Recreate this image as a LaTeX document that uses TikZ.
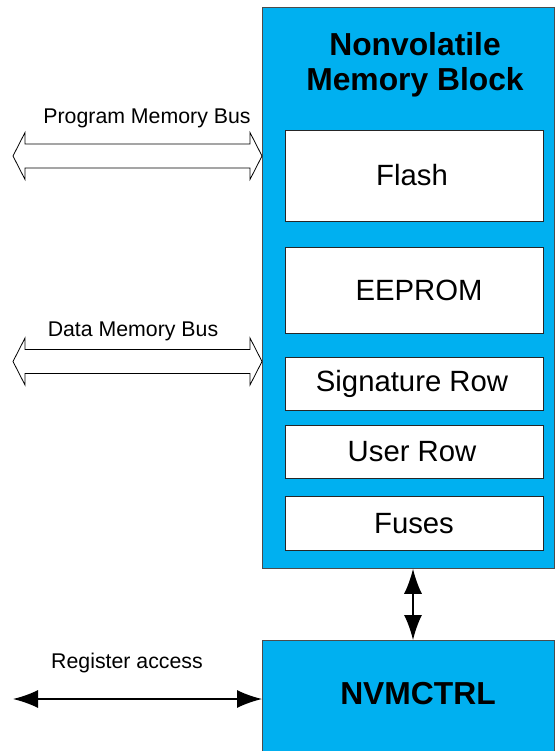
\documentclass[tikz,border=0pt]{standalone}
\usepackage{fontspec}
\setmainfont{Liberation Sans}
\usetikzlibrary{arrows.meta}
\definecolor{nvblue}{RGB}{0,176,240}
\begin{document}
\begin{tikzpicture}[x=1pt,y=-1pt,
  blk/.style={draw=black!70, fill=nvblue, line width=0.8pt, inner sep=0pt},
  memrow/.style={draw=black!85, fill=white, line width=0.8pt, minimum width=258pt, inner sep=0pt, font=\fontsize{29.3}{34}\selectfont},
  title/.style={font=\bfseries\fontsize{31.8}{35}\selectfont, align=center, inner sep=0pt},
  buslabel/.style={font=\fontsize{21.3}{25}\selectfont, inner sep=0pt},
  bus/.style={draw=black, fill=white, line width=0.8pt, line join=miter},
  dbl/.style={{Latex[length=25pt,width=18pt]}-{Latex[length=25pt,width=18pt]}, line width=1.6pt}]
\useasboundingbox (0,0) rectangle (554,751);

% main blocks
\node[blk, anchor=north west, minimum width=292pt, minimum height=561pt] (nvm) at (262,7) {};
\node[blk, anchor=north west, minimum width=292pt, minimum height=130pt] (nvc) at (262,640) {};

\node[title] (ttl) at (415,65) {Nonvolatile\\Memory Block};
\node[title] (nvct) at (418,694) {NVMCTRL};

% memory rows
\node[memrow, minimum height=91pt] (flash) at (414,175.5) {\hspace{-4pt}Flash};
\node[memrow, minimum height=86pt] (eeprom) at (414,290) {\hspace{10pt}EEPROM};
\node[memrow, minimum height=53pt] (sig) at (414,383.5) {\hspace{-4pt}Signature Row};
\node[memrow, minimum height=53pt] (user) at (414,451.5) {\hspace{-4pt}User Row};
\node[memrow, minimum height=54pt] (fuse) at (414,523.5) {Fuses};

% labels
\node[buslabel] (pml) at (147,118) {Program Memory Bus};
\node[buslabel] (dml) at (133,331) {Data Memory Bus};
\node[buslabel] (ral) at (127,663) {Register access};

% hollow bus arrows
\coordinate (pb) at (13,156);
\coordinate (db) at (13,361.5);
\foreach \c in {pb,db}{
  \draw[bus] (\c) -- ++(12,-23.5) -- ++(0,11.5) -- ++(225,0) -- ++(0,-11.5)
     -- ++(12,23.5) -- ++(-12,23.5) -- ++(0,-11.5) -- ++(-225,0) -- ++(0,11.5) -- cycle;
}

% register access arrow
\coordinate (ra) at (13,699);
\draw[dbl] (ra) -- (ra -| nvc.west);

% vertical link
\coordinate (vx) at (413,0);
\draw[dbl] (nvm.south -| vx) -- (nvc.north -| vx);
\end{tikzpicture}
\end{document}
